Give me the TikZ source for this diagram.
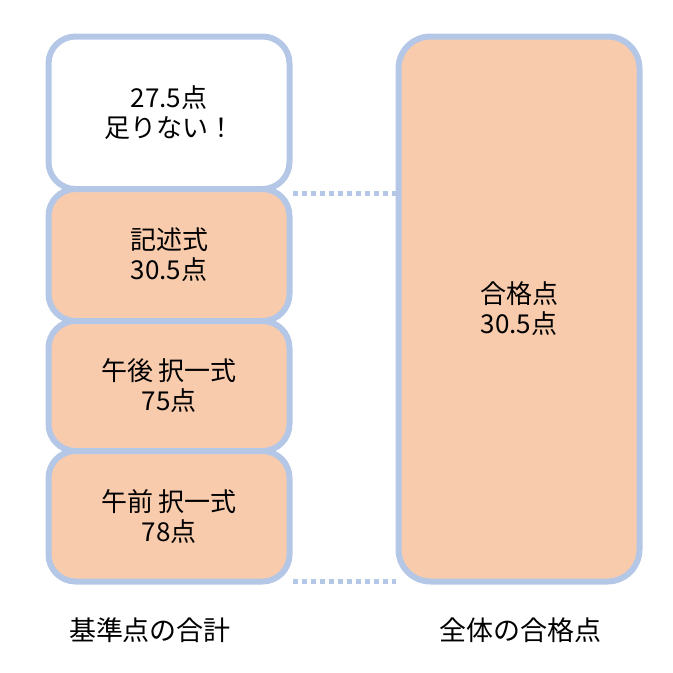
\documentclass[tikz,border=0pt]{standalone}
\usepackage{fontspec}
\setmainfont{Noto Sans CJK JP}
\usepackage{tikz}

\definecolor{boxline}{RGB}{180,199,231}
\definecolor{boxfill}{RGB}{248,203,173}

\tikzset{
	part/.style={shape=rectangle,draw=boxline,line width=6pt,rounded corners=27pt,
		minimum width=241pt,align=center,inner sep=0pt,
		font=\fontsize{26}{30}\selectfont},
	dotline/.style={draw=boxline,line width=5pt,dash pattern=on 5pt off 4pt},
	caption/.style={font=\fontsize{27}{30}\selectfont}
}

\begin{document}
\begin{tikzpicture}[x=1pt,y=-1pt]
	\useasboundingbox (0,0) rectangle (673,673);
	\node[part,fill=white,minimum height=152.5pt] (lack) at (169, 112.75) {27.5点\\足りない！};
	\node[part,fill=boxfill,minimum height=132pt] (desc) at (169, 255)    {記述式\\30.5点};
	\node[part,fill=boxfill,minimum height=130pt] (pm)   at (169, 386)    {午後 択一式\\75点};
	\node[part,fill=boxfill,minimum height=130.5pt] (am) at (169, 516.25) {午前 択一式\\78点};
	\node[part,fill=boxfill,rounded corners=32pt,minimum height=545pt] (pass) at (519, 309) {合格点\\30.5点};
	\path[dotline] ([yshift=-1.5pt]lack.south east) -- ([yshift=-1.5pt]lack.south east -| pass.west);
	\path[dotline] ([yshift=3.5pt]am.south east) -- ([yshift=3.5pt]am.south east -| pass.west);
	\node[caption] (sum)   at (150, 630) {基準点の合計};
	\node[caption] (total) at (520, 630) {全体の合格点};
\end{tikzpicture}
\end{document}
